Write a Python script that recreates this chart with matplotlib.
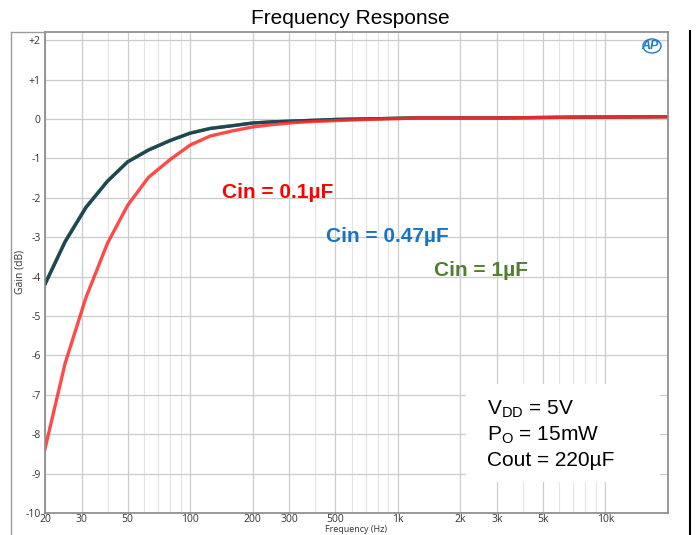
import numpy as np
import matplotlib
matplotlib.use('Agg')
from matplotlib import rcParams

rcParams['font.family'] = 'sans-serif'
rcParams['font.sans-serif'] = ['Liberation Sans', 'DejaVu Sans']

import matplotlib.pyplot as plt
from matplotlib.lines import Line2D
from matplotlib.patches import Rectangle, Ellipse
from matplotlib.ticker import FixedLocator, NullFormatter

# frequency points (Hz)
freq = [20, 25, 31.5, 40, 50, 63, 80, 100, 125, 160, 200, 250, 315, 400, 500,
        630, 800, 1000, 1250, 2000, 3150, 5000, 8000, 10000, 20000]

# gain (dB) for each Cin
gain_1u = [-4.18, -3.1, -2.23, -1.57, -1.08, -0.78, -0.54, -0.355, -0.235, -0.165,
           -0.10, -0.07, -0.05, -0.03, -0.01, 0.0, 0.01, 0.02, 0.03, 0.03, 0.03,
           0.04, 0.05, 0.05, 0.06]
gain_047u = [-4.2, -3.12, -2.25, -1.58, -1.09, -0.79, -0.55, -0.36, -0.24, -0.17,
             -0.10, -0.07, -0.05, -0.03, -0.01, 0.0, 0.01, 0.02, 0.03, 0.03, 0.03,
             0.04, 0.05, 0.05, 0.06]
gain_01u = [-8.37, -6.2, -4.53, -3.15, -2.19, -1.48, -1.03, -0.66, -0.43, -0.3,
            -0.2, -0.14, -0.09, -0.06, -0.04, -0.02, 0.0, 0.01, 0.03, 0.03, 0.03,
            0.04, 0.05, 0.05, 0.06]

major_f = [20, 30, 50, 100, 200, 300, 500, 1000, 2000, 3000, 5000, 10000]
major_lbl = ['20', '30', '50', '100', '200', '300', '500', '1k', '2k', '3k', '5k', '10k']
minor_f = [40, 60, 70, 80, 90, 400, 600, 700, 800, 900,
           4000, 6000, 7000, 8000, 9000, 20000]
y_ticks = list(range(-10, 3))
y_lbl = ['+%d' % v if v > 0 else '%d' % v for v in y_ticks]


def main():
    fig = plt.figure(figsize=(6.96, 5.35), dpi=100)
    ax = fig.add_axes([45 / 696, 22 / 535, 623 / 696, 481 / 535])

    ax.plot(freq, gain_1u, color='#4f7f2f', lw=2.4)
    ax.plot(freq, gain_047u, color='#1d4658', lw=2.3)
    ax.plot(freq, gain_01u, color='#ff2a2a', lw=2.4, alpha=0.85)

    ax.set_xscale('log')
    ax.set_xlim(20, 20000)
    ax.set_ylim(-10, 2.21)

    ax.xaxis.set_major_locator(FixedLocator(major_f))
    ax.set_xticklabels(major_lbl)
    ax.xaxis.set_minor_locator(FixedLocator(minor_f))
    ax.xaxis.set_minor_formatter(NullFormatter())
    ax.set_yticks(y_ticks)
    ax.set_yticklabels(y_lbl)

    ax.tick_params(axis='both', which='both', length=0, labelsize=7.5,
                   colors='#333333', pad=3)
    ax.tick_params(axis='x', pad=1)
    for lbl in ax.get_xticklabels() + ax.get_yticklabels():
        lbl.set_family('Open Sans')
    ax.grid(True, which='major', color='#cccccc', lw=0.9)
    ax.grid(True, which='minor', axis='x', color='#e4e4e4', lw=0.8)
    ax.set_axisbelow(True)
    for s in ax.spines.values():
        s.set_color('#888888')
        s.set_linewidth(1.2)

    # axis titles
    fig.text(20 / 696, 1 - 272 / 535, 'Gain (dB)', rotation=90, ha='center',
             va='center', fontsize=7.5, color='#333333', family='Open Sans')
    fig.text(356 / 696, 0.5 / 535, 'Frequency (Hz)', ha='center',
             va='bottom', fontsize=6.5, color='#333333', family='Open Sans')

    fig.text(350 / 696, 1 - 19 / 535, 'Frequency Response', ha='center',
             va='center', fontsize=15)

    # curve labels
    ax.text((222 - 45) / 623, (513 - 193) / 481, 'Cin = 0.1\u00b5F', transform=ax.transAxes,
            color='#ff0000', fontsize=15, fontweight='bold', va='center')
    ax.text((326 - 45) / 623, (513 - 236) / 481, 'Cin = 0.47\u00b5F', transform=ax.transAxes,
            color='#1a73c0', fontsize=15, fontweight='bold', va='center')
    ax.text((434 - 45) / 623, (513 - 271) / 481, 'Cin = 1\u00b5F', transform=ax.transAxes,
            color='#4f7f2f', fontsize=15, fontweight='bold', va='center')

    # condition box
    ax.add_patch(Rectangle(((466 - 45) / 623, (513 - 482) / 481), 194 / 623, 98 / 481,
                           transform=ax.transAxes, facecolor='white',
                           edgecolor='none', zorder=3))
    for i, t in enumerate(['V$_{\\mathregular{DD}}$ = 5V', 'P$_{\\mathregular{O}}$ = 15mW',
                           'Cout = 220\u00b5F']):
        ax.text((487 - 45) / 623, (513 - 409 - 26 * i) / 481, t, transform=ax.transAxes,
                fontsize=15, va='center', zorder=4)

    # AP logo
    ax.text((650 - 45) / 623, (513 - 46) / 481, 'AP', transform=ax.transAxes,
            color='#1f78c8', fontsize=9, fontweight='bold', style='italic',
            ha='center', va='center')
    ax.add_patch(Ellipse(((652 - 45) / 623, (513 - 46) / 481), 18 / 623, 14 / 481,
                         transform=ax.transAxes, facecolor='none',
                         edgecolor='#1f78c8', lw=1.0))

    # outer frame
    fig.add_artist(Line2D([11 / 696, 11 / 696], [0, 1 - 32 / 535], color='#999999', lw=1))
    fig.add_artist(Line2D([11 / 696, 45 / 696], [1 - 32 / 535, 1 - 32 / 535],
                          color='#999999', lw=1))
    fig.add_artist(Line2D([690 / 696, 690 / 696], [0, 1 - 31 / 535], color='black', lw=1.5))

    fig.savefig('out.png', dpi=100)


if __name__ == '__main__':
    main()
